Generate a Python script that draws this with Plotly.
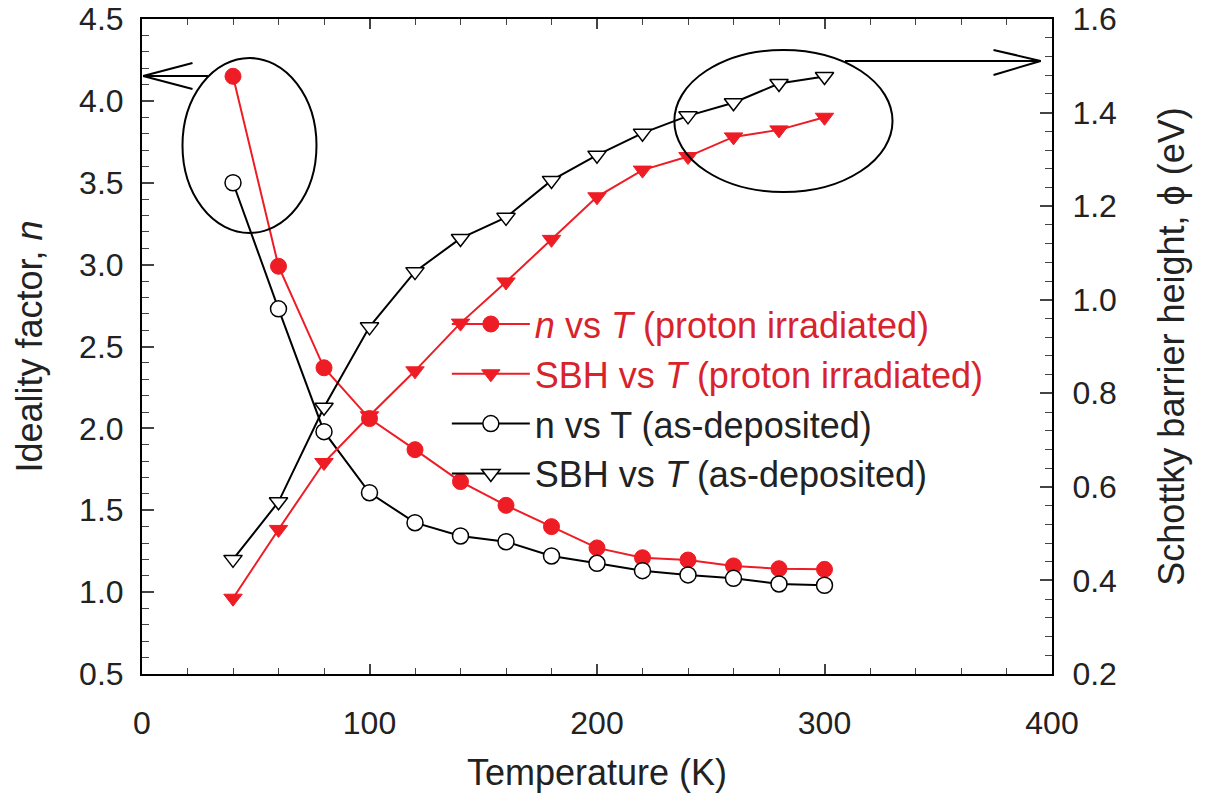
import plotly.graph_objects as go

T = [40, 60, 80, 100, 120, 140, 160, 180, 200, 220, 240, 260, 280, 300]
n_irr = [4.15, 2.99, 2.37, 2.06, 1.87, 1.675, 1.53, 1.40, 1.27, 1.21, 1.196, 1.16, 1.143, 1.139]
sbh_irr = [0.362, 0.509, 0.652, 0.752, 0.848, 0.95, 1.038, 1.129, 1.220, 1.277, 1.306, 1.348, 1.363, 1.390]
n_dep = [3.50, 2.73, 1.98, 1.607, 1.424, 1.343, 1.308, 1.221, 1.176, 1.131, 1.105, 1.084, 1.05, 1.042]
sbh_dep = [0.445, 0.568, 0.770, 0.942, 1.060, 1.131, 1.176, 1.255, 1.309, 1.356, 1.393, 1.421, 1.462, 1.477]

RED = "#ee1c24"
RED_TXT = "#d8232a"
FONT = "Liberation Sans, Arial, sans-serif"

fig = go.Figure()
fig.add_trace(go.Scatter(
    x=T, y=n_irr, mode="lines+markers", yaxis="y",
    line=dict(color=RED, width=2),
    marker=dict(symbol="circle", size=16, color=RED, line=dict(color=RED, width=1)),
    name=f"<span style='color:{RED_TXT}'><i>n</i> vs <i>T</i> (proton irradiated)</span>",
    legendgroup="a"))
fig.add_trace(go.Scatter(
    x=T, y=sbh_irr, mode="lines+markers", yaxis="y2",
    line=dict(color=RED, width=2),
    marker=dict(symbol="triangle-down", size=16, color=RED, line=dict(color=RED, width=1)),
    name=f"<span style='color:{RED_TXT}'>SBH vs <i>T</i> (proton irradiated)</span>",
    legendgroup="b"))
fig.add_trace(go.Scatter(
    x=T, y=n_dep, mode="lines+markers", yaxis="y",
    line=dict(color="black", width=2),
    marker=dict(symbol="circle", size=16, color="white", line=dict(color="black", width=1.5)),
    name="n vs T (as-deposited)",
    legendgroup="c"))
fig.add_trace(go.Scatter(
    x=T, y=sbh_dep, mode="lines+markers", yaxis="y2",
    line=dict(color="black", width=2),
    marker=dict(symbol="triangle-down", size=16, color="white", line=dict(color="black", width=1.5)),
    name="SBH vs <i>T</i> (as-deposited)",
    legendgroup="d"))

shapes = []
# left ellipse + arrow
shapes.append(dict(type="circle", xref="x", yref="y", x0=17.8, x1=76.7, y0=3.193, y1=4.262,
                   line=dict(color="black", width=2)))
shapes.append(dict(type="line", xref="x", yref="y", x0=0.5, x1=29, y0=4.152, y1=4.152,
                   line=dict(color="black", width=2)))
shapes.append(dict(type="line", xref="x", yref="y", x0=22.2, x1=0.5, y0=4.231, y1=4.152,
                   line=dict(color="black", width=2)))
shapes.append(dict(type="line", xref="x", yref="y", x0=22.2, x1=0.5, y0=4.073, y1=4.152,
                   line=dict(color="black", width=2)))
# right ellipse + arrow
shapes.append(dict(type="circle", xref="x", yref="y", x0=234, x1=329.9, y0=3.443, y1=4.311,
                   line=dict(color="black", width=2)))
shapes.append(dict(type="line", xref="x", yref="y", x0=309, x1=395, y0=4.244, y1=4.244,
                   line=dict(color="black", width=2)))
shapes.append(dict(type="line", xref="x", yref="y", x0=374.3, x1=395, y0=4.311, y1=4.244,
                   line=dict(color="black", width=2)))
shapes.append(dict(type="line", xref="x", yref="y", x0=374.3, x1=395, y0=4.158, y1=4.244,
                   line=dict(color="black", width=2)))

fig.update_layout(
    width=1213, height=805,
    margin=dict(l=142, r=161, t=19, b=131, autoexpand=False),
    paper_bgcolor="white", plot_bgcolor="white",
    font=dict(family=FONT, size=32, color="#222"),
    shapes=shapes,
    showlegend=True,
    legend=dict(x=0.335, y=0.58, xanchor="left", yanchor="top",
                bgcolor="rgba(0,0,0,0)", font=dict(size=36, family=FONT, color="#222"),
                traceorder="grouped", tracegroupgap=0, itemwidth=78),
    xaxis=dict(range=[0, 400], dtick=100, tick0=0, ticks="inside", ticklen=10, tickwidth=1.5,
               showline=True, linecolor="black", linewidth=2, mirror="ticks",
               showgrid=False, zeroline=False, ticklabelstandoff=20, automargin=False,
               minor=dict(dtick=20, ticks="inside", ticklen=6, tickwidth=1, showgrid=False),
               title=dict(text="Temperature (K)", font=dict(size=36), standoff=19),
               tickfont=dict(size=32)),
    yaxis=dict(range=[0.5, 4.5], dtick=0.5, tick0=0.5, tickformat=".1f",
               ticks="inside", ticklen=12, tickwidth=1.5,
               showline=True, linecolor="black", linewidth=2,
               showgrid=False, zeroline=False, ticklabelstandoff=10, automargin=False,
               minor=dict(dtick=0.1, ticks="inside", ticklen=7, tickwidth=1, showgrid=False),
               title=dict(text="Ideality factor, <i>n</i>", font=dict(size=36), standoff=26),
               tickfont=dict(size=32)),
    yaxis2=dict(range=[0.2, 1.6], dtick=0.2, tick0=0.2, tickformat=".1f", overlaying="y", side="right",
                ticks="inside", ticklen=12, tickwidth=1.5,
                showline=True, linecolor="black", linewidth=2,
                showgrid=False, zeroline=False, ticklabelstandoff=12, automargin=False,
                minor=dict(dtick=0.04, ticks="inside", ticklen=7, tickwidth=1, showgrid=False),
                title=dict(text="Schottky barrier height, ϕ (eV)", font=dict(size=36), standoff=43),
                tickfont=dict(size=32)),
)

fig.write_html("out.html")
